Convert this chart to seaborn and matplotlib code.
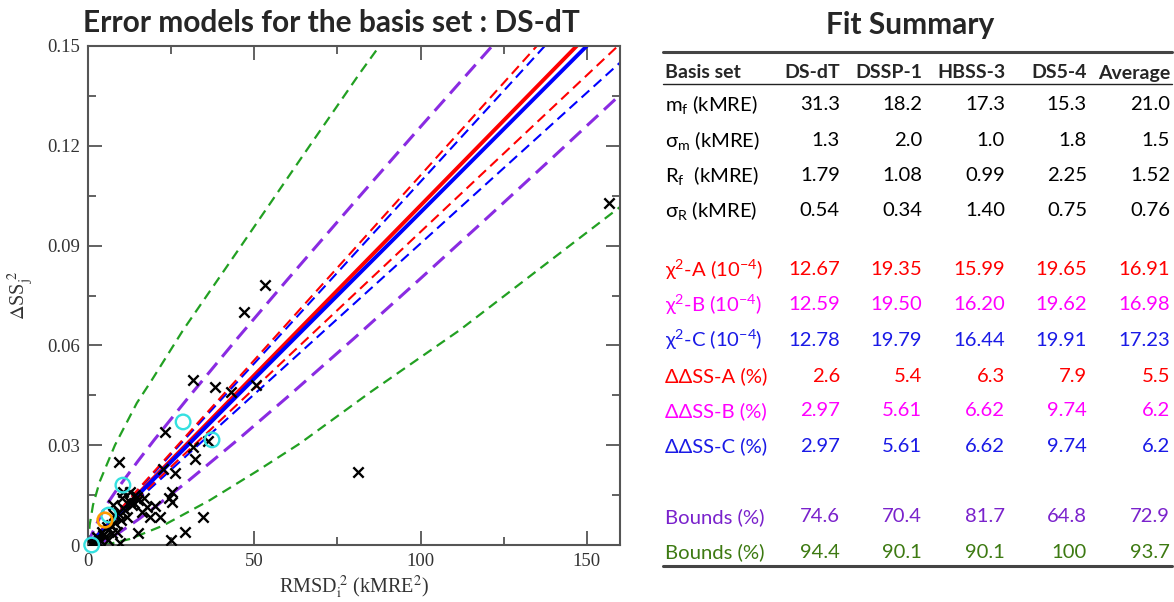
import numpy as np
import pandas as pd
import seaborn as sns
import matplotlib
matplotlib.use("Agg")
import matplotlib.pyplot as plt
from matplotlib.lines import Line2D
from matplotlib.ticker import MultipleLocator, FuncFormatter

# ---------------- data ----------------
# observed points (RMSD_i^2 in kMRE^2, dSS_j^2)
obs_x = [156.6, 81.2, 53.2, 46.9, 31.6, 38.2, 43.0, 50.5, 23.1, 9.3, 31.6, 32.2,
         22.5, 26.1, 25.2, 24.3, 25.2, 20.1, 21.6, 18.6, 34.6, 15.0, 29.2, 24.9,
         36.1, 7.6, 10.1, 10.6, 12.6, 14.1, 15.1, 9.1, 11.6, 8.1, 7.1, 5.1, 3.6,
         2.1, 1.1, 2.6, 6.1, 8.6, 9.6, 16.1, 17.6, 4.1, 5.6, 10.6, 12.6, 14.6,
         13.3, 11.2, 9.8, 6.8, 4.6, 3.1, 1.6, 0.8, 2.9, 5.9, 7.9, 13.9, 16.8]
obs_y = [0.1028, 0.0219, 0.0782, 0.0700, 0.0496, 0.0475, 0.0460, 0.0481, 0.0340,
         0.0250, 0.0295, 0.0259, 0.0228, 0.0216, 0.0159, 0.0141, 0.0130, 0.0117,
         0.0084, 0.0084, 0.0084, 0.0036, 0.0039, 0.0015, 0.0313, 0.0120, 0.0140,
         0.0110, 0.0130, 0.0150, 0.0135, 0.0095, 0.0085, 0.0065, 0.0035, 0.0025,
         0.0015, 0.0005, 0.0000, 0.0025, 0.0015, 0.0040, 0.0005, 0.0100, 0.0115,
         0.0040, 0.0055, 0.0160, 0.0160, 0.0145, 0.0120, 0.0105, 0.0075, 0.0060,
         0.0030, 0.0020, 0.0010, 0.0005, 0.0008, 0.0045, 0.0090, 0.0125, 0.0140]
cyan_x = [28.6, 37.3, 10.5, 6.2, 1.1]
cyan_y = [0.0370, 0.0316, 0.0180, 0.0090, 0.0000]
orange_x = [5.1]
orange_y = [0.0075]

# model curves
lin_x = [0, 160]
red_solid_y = [0, 0.1633]
red_up_y = [0, 0.1778]
red_lo_y = [0, 0.1506]
blue_solid_y = [0, 0.1600]
blue_up_y = [0, 0.1747]
blue_lo_y = [0, 0.1450]

purple_up_x = [0, 1.0, 2.7, 5.0, 8.7, 15, 20, 30, 45, 60, 80, 100, 125]
purple_up_y = [0, 0.0030, 0.0065, 0.0112, 0.0167, 0.0252, 0.0317, 0.0441,
               0.0622, 0.0798, 0.1029, 0.1257, 0.1539]
purple_lo_x = [1.3, 4, 7, 10, 15, 20, 30, 45, 60, 80, 100, 120, 140, 160]
purple_lo_y = [0, 0.00074, 0.00229, 0.00414, 0.00759, 0.0113, 0.01915, 0.0316,
               0.0445, 0.0621, 0.0801, 0.0983, 0.1167, 0.1353]
green_up_x = [0, 0.5, 1.5, 3.5, 8.1, 14.7, 19.2, 28.6, 46.1, 63.7, 81.8, 92]
green_up_y = [0, 0.0060, 0.0120, 0.0190, 0.0300, 0.0427, 0.0496, 0.0646,
              0.0900, 0.1157, 0.1419, 0.1560]
green_lo_x = [5.0, 7.6, 12.6, 22.5, 36.7, 50.8, 63.7, 85.0, 111.8, 160]
green_lo_y = [0, 0.0006, 0.0018, 0.0058, 0.0135, 0.0222, 0.0305, 0.0460,
              0.0646, 0.1016]

x_ticks = [0, 50, 100, 150]
y_ticks = [0, 0.03, 0.06, 0.09, 0.12, 0.15]

# summary table
basis_sets = ["DS-dT", "DSSP-1", "HBSS-3", "DS5-4", "Average"]
row_labels = ["m$_\\mathrm{f}$ (kMRE)", "σ$_\\mathrm{m}$ (kMRE)", "R$_\\mathrm{f}$  (kMRE)",
              "σ$_\\mathrm{R}$ (kMRE)",
              "χ$^2$-A (10$^{-4}$)", "χ$^2$-B (10$^{-4}$)", "χ$^2$-C (10$^{-4}$)",
              "ΔΔSS-A (%)", "ΔΔSS-B (%)", "ΔΔSS-C (%)",
              "Bounds (%)", "Bounds (%)"]
m_f = ["31.3", "18.2", "17.3", "15.3", "21.0"]
sigma_m = ["1.3", "2.0", "1.0", "1.8", "1.5"]
R_f = ["1.79", "1.08", "0.99", "2.25", "1.52"]
sigma_R = ["0.54", "0.34", "1.40", "0.75", "0.76"]
chi2_A = ["12.67", "19.35", "15.99", "19.65", "16.91"]
chi2_B = ["12.59", "19.50", "16.20", "19.62", "16.98"]
chi2_C = ["12.78", "19.79", "16.44", "19.91", "17.23"]
ddss_A = ["2.6", "5.4", "6.3", "7.9", "5.5"]
ddss_B = ["2.97", "5.61", "6.62", "9.74", "6.2"]
ddss_C = ["2.97", "5.61", "6.62", "9.74", "6.2"]
bounds_purple = ["74.6", "70.4", "81.7", "64.8", "72.9"]
bounds_green = ["94.4", "90.1", "90.1", "100", "93.7"]

# ---------------- style ----------------
sns.set_theme(style="ticks")
plt.rcParams["font.family"] = ["Liberation Serif", "DejaVu Serif"]
plt.rcParams["mathtext.fontset"] = "custom"
plt.rcParams["mathtext.rm"] = "Lato"
plt.rcParams["mathtext.it"] = "Lato:italic"
plt.rcParams["mathtext.bf"] = "Lato:bold"

W, H = 1174, 602
fig = plt.figure(figsize=(W / 100, H / 100), dpi=100)
L, R, T, B = 88, 620, 46, 545
ax = fig.add_axes([L / W, 1 - B / H, (R - L) / W, (B - T) / H])

RED, BLUE, PURPLE, GREEN = "#ff0000", "#0000ff", "#8a2be2", "#22a022"


def curve(xs, ys, color, lw, dashes=None):
    df = pd.DataFrame({"x": xs, "y": ys})
    sns.lineplot(data=df, x="x", y="y", color=color, lw=lw, sort=False,
                 estimator=None, ax=ax)
    line = ax.lines[-1]
    if dashes:
        line.set_dashes(dashes)
        line.set_dash_capstyle("butt")
    return line


curve(green_up_x, green_up_y, GREEN, 1.6, (4.5, 2.8))
curve(green_lo_x, green_lo_y, GREEN, 1.6, (4.5, 2.8))
curve(purple_up_x, purple_up_y, PURPLE, 2.2, (5, 2.6))
curve(purple_lo_x, purple_lo_y, PURPLE, 2.2, (5, 2.6))
curve(lin_x, blue_up_y, BLUE, 1.5, (5, 2.8))
curve(lin_x, blue_lo_y, BLUE, 1.5, (5, 2.8))
curve(lin_x, red_up_y, RED, 1.5, (5, 2.8))
curve(lin_x, red_lo_y, RED, 1.5, (5, 2.8))
curve(lin_x, red_solid_y, RED, 2.8)
curve(lin_x, blue_solid_y, BLUE, 2.8)

sns.scatterplot(x=obs_x, y=obs_y, marker="x", color="black", s=55,
                linewidth=1.7, ax=ax, zorder=5)
ax.scatter(cyan_x, cyan_y, s=110, facecolors="none", edgecolors="#35e0e0",
           linewidths=1.7, zorder=6, clip_on=False)
ax.scatter(orange_x, orange_y, s=110, facecolors="none", edgecolors="#ff9900",
           linewidths=1.9, zorder=6)

ax.set_xlim(0, 160)
ax.set_ylim(0, 0.15)
ax.set_xticks(x_ticks)
ax.set_yticks(y_ticks)
ax.xaxis.set_minor_locator(MultipleLocator(25))
ax.yaxis.set_minor_locator(MultipleLocator(0.015))
ax.yaxis.set_major_formatter(FuncFormatter(lambda v, p: "0" if abs(v) < 1e-9 else f"{v:.2f}"))
ax.xaxis.set_major_formatter(FuncFormatter(lambda v, p: f"{v:.0f}"))
ax.tick_params(which="both", direction="in", top=True, right=True,
               color="#555555", width=1.3, labelsize=13.5, labelcolor="#333333")
ax.tick_params(which="major", length=10, pad=6)
ax.tick_params(which="minor", length=6)
for s in ax.spines.values():
    s.set_color("#555555")
    s.set_linewidth(1.5)
ax.set_xlabel(r"RMSD$_\mathrm{i}^{\ 2}$ (kMRE$^2$)", fontsize=14.5, color="#333333",
              math_fontfamily="stix", labelpad=2)
ax.set_ylabel(r"$\Delta$SS$_\mathrm{j}^{\ 2}$", fontsize=14.5, color="#333333",
              math_fontfamily="stix", labelpad=8)

SANS = ["Lato", "DejaVu Sans"]


def fx(px):
    return px / W


def fy(py):
    return 1 - py / H


fig.text(fx(331), fy(23), "Error models for the basis set : DS-dT", ha="center",
         va="center", fontsize=21.5, fontweight="bold", family=SANS)
fig.text(fx(910), fy(25), "Fit Summary", ha="center", va="center",
         fontsize=21.5, fontweight="bold", family=SANS)

# rules
fig.add_artist(Line2D([fx(663), fx(1172)], [fy(52), fy(52)], color="#444444", lw=2.2))
fig.add_artist(Line2D([fx(663), fx(1172)], [fy(84), fy(84)], color="#222222", lw=1.0))
fig.add_artist(Line2D([fx(663), fx(1172)], [fy(566), fy(566)], color="#444444", lw=2.2))

col_right = [840, 922, 1005, 1087, 1170]
label_x = 665
fs = 14.6

fig.text(fx(label_x), fy(73), "Basis set", ha="left", va="center", fontsize=14,
         fontweight="bold", family=SANS)
for cx, name in zip(col_right, basis_sets):
    fig.text(fx(cx), fy(73), name, ha="right", va="center", fontsize=14,
             fontweight="bold", family=SANS)

rows = [m_f, sigma_m, R_f, sigma_R, chi2_A, chi2_B, chi2_C, ddss_A, ddss_B,
        ddss_C, bounds_purple, bounds_green]
row_y = [105, 140, 175, 210, 270, 305, 340, 376, 411, 446, 517, 552]
row_col = ["black"] * 4 + ["#ff0000", "#ff00ff", "#1a1ae6", "#ff0000", "#ff00ff",
                           "#1a1ae6", "#7a22cc", "#3d7a12"]
for lab, vals, yy, c in zip(row_labels, rows, row_y, row_col):
    fig.text(fx(label_x), fy(yy), lab, ha="left", va="center", fontsize=fs,
             color=c, family=SANS)
    for cx, v in zip(col_right, vals):
        fig.text(fx(cx), fy(yy), v, ha="right", va="center", fontsize=fs,
                 color=c, family=SANS)

fig.savefig("out.png", dpi=100)
